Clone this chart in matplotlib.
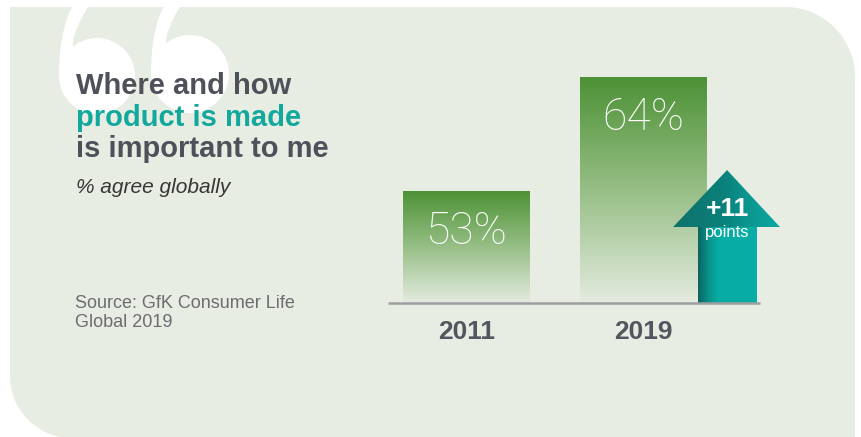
import numpy as np
import matplotlib
matplotlib.use("Agg")
import matplotlib.pyplot as plt
from matplotlib.path import Path
from matplotlib.patches import PathPatch, Circle, Polygon, Rectangle
from matplotlib.colors import LinearSegmentedColormap

# ---------------- data ----------------
years = ["2011", "2019"]
values = [53, 64]
change_label = "+11"
change_unit = "points"
title_lines = ["Where and how", "product is made", "is important to me"]
subtitle = "% agree globally"
source_lines = ["Source: GfK Consumer Life", "Global 2019"]

# ---------------- style ----------------
W, H, DPI = 861, 437, 100
BG = "#e7ede2"
DARK = "#4e5159"
TEAL = "#13a89d"
SANS = ["Liberation Sans", "DejaVu Sans"]

fig = plt.figure(figsize=(W / DPI, H / DPI), dpi=DPI)
fig.patch.set_facecolor("white")

# background axes in pixel coordinates
bg = fig.add_axes([0, 0, 1, 1])
bg.set_xlim(0, W)
bg.set_ylim(H, 0)
bg.axis("off")

# rounded panel
L, T, R, B = 10, 7, 855, 438
r1, r2 = 70, 62
k = 0.5523
verts = [(L, T), (R - r1, T),
         (R - r1 + k * r1, T), (R, T + r1 - k * r1), (R, T + r1),
         (R, B), (L + r2, B),
         (L + r2 - k * r2, B), (L, B - r2 + k * r2), (L, B - r2),
         (L, T), (L, T)]
codes = [Path.MOVETO, Path.LINETO,
         Path.CURVE4, Path.CURVE4, Path.CURVE4,
         Path.LINETO, Path.LINETO,
         Path.CURVE4, Path.CURVE4, Path.CURVE4,
         Path.LINETO, Path.CLOSEPOLY]
bg.add_patch(PathPatch(Path(verts, codes), facecolor=BG, edgecolor="none", zorder=0))

# big white opening quote mark (two "6" shapes)
def quote_six(cx, cy, r):
    bg.add_patch(Circle((cx, cy), r, facecolor="white", edgecolor="none", zorder=1))
    nx, ny = cx - 24, cy - 29.5
    v = [(cx - r, cy),
         (cx - r, cy - 35), (cx - r + 6, cy - 62), (cx - 17, cy - 82),
         (cx - 2, cy - 82),
         (cx - 11, cy - 65), (nx - 1, ny - 15), (nx, ny),
         (cx, cy), (cx - r, cy)]
    c = [Path.MOVETO,
         Path.CURVE4, Path.CURVE4, Path.CURVE4,
         Path.LINETO,
         Path.CURVE4, Path.CURVE4, Path.CURVE4,
         Path.LINETO, Path.CLOSEPOLY]
    bg.add_patch(PathPatch(Path(v, c), facecolor="white", edgecolor="none", zorder=1))

quote_six(97, 76, 38)
quote_six(190, 74, 39)

# title block
bg.text(76, 94, title_lines[0], fontsize=21, fontweight="bold", color=DARK,
        family=SANS, va="baseline", ha="left", zorder=3)
bg.text(76, 126, title_lines[1], fontsize=21, fontweight="bold", color=TEAL,
        family=SANS, va="baseline", ha="left", zorder=3)
bg.text(76, 157, title_lines[2], fontsize=21, fontweight="bold", color=DARK,
        family=SANS, va="baseline", ha="left", zorder=3)
bg.text(76, 193, subtitle, fontsize=15, style="italic", color="#363636",
        family=SANS, va="baseline", ha="left", zorder=3)
bg.text(75, 308, source_lines[0], fontsize=13, color="#6b6d71",
        family=SANS, va="baseline", ha="left", zorder=3)
bg.text(75, 327, source_lines[1], fontsize=13, color="#6b6d71",
        family=SANS, va="baseline", ha="left", zorder=3)

# ---------------- chart axes ----------------
ax_left, ax_right, ax_top, ax_bot = 388, 785, 60, 303
ax = fig.add_axes([ax_left / W, (H - ax_bot) / H,
                   (ax_right - ax_left) / W, (ax_bot - ax_top) / H])
ax.patch.set_alpha(0)
ymin, ymax = 42.19, 65.64
xmin, xmax = -0.4435, 1.7994
base_end = 1.658
x = np.arange(len(values))
bars = ax.bar(x, values, width=0.7175, bottom=0, color="none", zorder=2)

bar_cmap = LinearSegmentedColormap.from_list(
    "bar", [(0, "#4c9135"), (0.45, "#8fba7d"), (1.0, "#e4ebdf")])
grad = np.linspace(0, 1, 256).reshape(-1, 1)
for b in bars:
    x0, y1 = b.get_x(), b.get_height()
    x1 = x0 + b.get_width()
    im = ax.imshow(grad, extent=[x0, x1, ymin, y1], origin="upper",
                   cmap=bar_cmap, aspect="auto", zorder=2)
    im.set_clip_path(b)

ax.set_xlim(xmin, xmax)
ax.set_ylim(ymin, ymax)

for i, v in enumerate(values):
    ax.annotate(f"{v}%", xy=(x[i], v), xytext=(0, -41), textcoords="offset pixels",
                ha="center", va="center", fontsize=32, color="white",
                family=["Roboto", "Liberation Sans", "DejaVu Sans"],
                fontweight="light", zorder=4)

# change arrow (decoration next to second bar)
sx0, sx1 = 1.308, 1.636
hx0, hx1, tipx = 1.167, 1.771, 1.472
hy, tipy = 49.52, 55.02
shaft = Rectangle((sx0, ymin), sx1 - sx0, hy - ymin, facecolor="none",
                  edgecolor="none", zorder=3)
head = Polygon([(hx0, hy), (hx1, hy), (tipx, tipy)], closed=True,
               facecolor="none", edgecolor="none", zorder=3)
ax.add_patch(shaft)
ax.add_patch(head)
shaft_cmap = LinearSegmentedColormap.from_list(
    "shaft", [(0, "#0b6561"), (0.2, "#09968f"), (0.35, "#07aca4"), (1.0, "#08aea6")])
head_cmap = LinearSegmentedColormap.from_list(
    "head", [(0, "#10716c"), (0.45, "#0b7f79"), (0.75, "#0a9a93"), (1.0, "#0aa8a0")])
hg = np.linspace(0, 1, 256).reshape(1, -1)
im_s = ax.imshow(hg, extent=[sx0, sx1, ymin, hy], cmap=shaft_cmap, aspect="auto", zorder=3)
im_s.set_clip_path(shaft)
im_h = ax.imshow(hg, extent=[hx0, hx1, hy, tipy], cmap=head_cmap, aspect="auto", zorder=3)
im_h.set_clip_path(head)
ax.set_xlim(xmin, xmax)
ax.set_ylim(ymin, ymax)

ax.text(tipx, 51.25, change_label, ha="center", va="center", fontsize=19,
        fontweight="bold", color="white", family=SANS, zorder=5)
ax.text(tipx, 48.95, change_unit, ha="center", va="center", fontsize=12,
        color="white", family=SANS, zorder=5)

# baseline
ax.plot([xmin, base_end], [ymin, ymin], color="#9c9e9f", lw=1.8,
        solid_capstyle="butt", clip_on=False, zorder=6)

# axes styling
for s in ["top", "right", "left", "bottom"]:
    ax.spines[s].set_visible(False)
ax.set_yticks([])
ax.set_xticks(x)
ax.set_xticklabels(years, fontsize=19, fontweight="bold", color="#53565e", family=SANS)
ax.tick_params(axis="x", length=0, pad=12)

fig.savefig("out.png", dpi=DPI, facecolor="white")
